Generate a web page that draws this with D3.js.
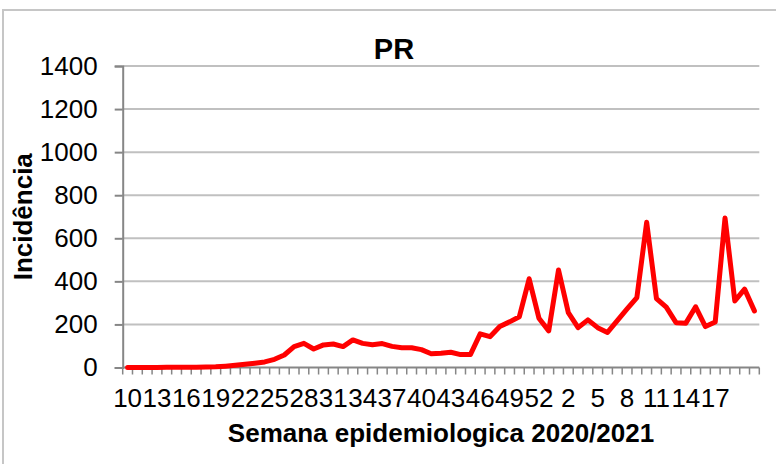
<!DOCTYPE html>
<html>
<head>
<meta charset="utf-8">
<title>PR</title>
<script src="https://cdn.jsdelivr.net/npm/d3@7"></script>
<style>
  html, body { margin: 0; padding: 0; background: #fff; }
  svg { display: block; font-family: Arial, "Liberation Sans", sans-serif; }
</style>
</head>
<body>
<script>
// semanas epidemiologicas: 10..53 (2020) e 1..21 (2021)
var semanas = [10, 11, 12, 13, 14, 15, 16, 17, 18, 19, 20, 21, 22, 23, 24, 25, 26, 27, 28, 29,
  30, 31, 32, 33, 34, 35, 36, 37, 38, 39, 40, 41, 42, 43, 44, 45, 46, 47, 48, 49,
  50, 51, 52, 53, 1, 2, 3, 4, 5, 6, 7, 8, 9, 10, 11, 12, 13, 14, 15, 16,
  17, 18, 19, 20, 21];

var incidencia = [0, 0, 0, 0, 1, 1, 1, 1, 2, 3,
  6, 10, 15, 20, 26, 38, 58, 97, 112, 86,
  105, 109, 97, 128, 112, 106, 111, 98, 92, 92,
  83, 64, 66, 71, 60, 60, 156, 143, 190, 212,
  236, 412, 229, 170, 453, 255, 185, 221, 185, 163,
  218, 272, 325, 674, 320, 280, 208, 206, 282, 190,
  211, 694, 309, 364, 263];

var yTicks = [0, 200, 400, 600, 800, 1000, 1200, 1400];
var labelIdx = [0, 3, 6, 9, 12, 15, 18, 21, 24, 27, 30, 33, 36, 39, 42, 45, 48, 51, 54, 57, 60];

var W = 776, H = 464;
var pLeft = 122.7, pRight = 759.3, pTop = 66, pBottom = 367.5;

var svg = d3.select("body").append("svg")
  .attr("width", W)
  .attr("height", H);

// moldura
svg.append("rect")
  .attr("x", 3).attr("y", 10)
  .attr("width", 800).attr("height", 500)
  .attr("fill", "#fff")
  .attr("stroke", "#c6c6c6")
  .attr("stroke-width", 2);

var x = d3.scaleBand()
  .domain(d3.range(semanas.length))
  .range([pLeft, pRight])
  .padding(0);

var y = d3.scaleLinear()
  .domain([0, 1400])
  .range([pBottom, pTop]);

// grade
svg.append("g")
  .selectAll("line")
  .data(yTicks.slice(1))
  .enter()
  .append("line")
  .attr("x1", pLeft).attr("x2", pRight)
  .attr("y1", d => y(d)).attr("y2", d => y(d))
  .attr("stroke", "#c0c0c0")
  .attr("stroke-width", 2);

// eixo y
var axisY = d3.axisLeft(y).tickValues(yTicks).tickFormat(d3.format("d"))
  .tickSize(8).tickPadding(17);
var gy = svg.append("g")
  .attr("transform", "translate(" + pLeft + ",0)")
  .call(axisY);
gy.select(".domain").attr("stroke", "#868686").attr("stroke-width", 2);
gy.selectAll(".tick line").attr("stroke", "#868686").attr("stroke-width", 2);
gy.selectAll("text").attr("font-size", 26).attr("fill", "#000")
  .style("font-family", "Arial, 'Liberation Sans', sans-serif");

// eixo x: marcas entre categorias
var bounds = d3.range(semanas.length).map(i => x(i)).concat([pRight]);
svg.append("g")
  .selectAll("line")
  .data(bounds)
  .enter()
  .append("line")
  .attr("x1", d => d).attr("x2", d => d)
  .attr("y1", pBottom).attr("y2", pBottom + 7)
  .attr("stroke", "#868686")
  .attr("stroke-width", 1.5);

svg.append("line")
  .attr("x1", pLeft).attr("x2", pRight)
  .attr("y1", pBottom).attr("y2", pBottom)
  .attr("stroke", "#868686")
  .attr("stroke-width", 2);

svg.append("g")
  .selectAll("text")
  .data(labelIdx)
  .enter()
  .append("text")
  .attr("x", d => x(d) + x.bandwidth() / 2)
  .attr("y", 407)
  .attr("text-anchor", "middle")
  .attr("font-size", 26)
  .text(d => semanas[d]);

// linha
var line = d3.line()
  .x((d, i) => x(i) + x.bandwidth() / 2)
  .y(d => y(d));

svg.append("path")
  .datum(incidencia)
  .attr("d", line)
  .attr("fill", "none")
  .attr("stroke", "#ff0000")
  .attr("stroke-width", 5)
  .attr("stroke-linejoin", "round")
  .attr("stroke-linecap", "round");

// titulos
svg.append("text")
  .attr("x", 394).attr("y", 59)
  .attr("text-anchor", "middle")
  .attr("font-size", 29)
  .attr("font-weight", "bold")
  .text("PR");

svg.append("text")
  .attr("x", (pLeft + pRight) / 2).attr("y", 442)
  .attr("text-anchor", "middle")
  .attr("font-size", 26)
  .attr("font-weight", "bold")
  .text("Semana epidemiologica 2020/2021");

svg.append("text")
  .attr("transform", "translate(32," + ((pTop + pBottom) / 2) + ") rotate(-90)")
  .attr("text-anchor", "middle")
  .attr("font-size", 26)
  .attr("font-weight", "bold")
  .text("Incidência");
</script>
</body>
</html>
